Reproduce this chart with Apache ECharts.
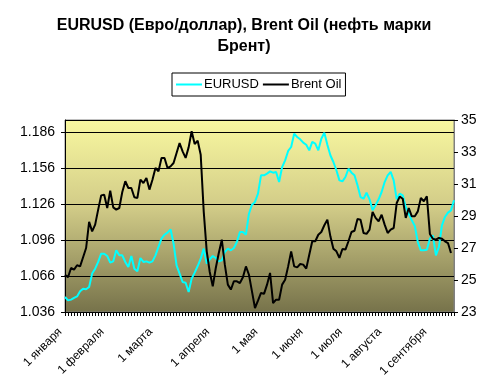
<!DOCTYPE html>
<html><head><meta charset="utf-8">
<script src="https://cdn.jsdelivr.net/npm/echarts@6/dist/echarts.min.js"></script>
<style>html,body{margin:0;padding:0;background:#fff}#c{width:488px;height:387px}</style>
</head><body><div id="c"></div>
<script>
const titleLines = ['EURUSD (Евро/доллар), Brent Oil (нефть марки', 'Брент)'];
const seriesNames = ['EURUSD', 'Brent Oil'];
const monthLabels = ['1 января','1 февраля','1 марта','1 апреля','1 мая','1 июня','1 июля','1 августа','1 сентября'];
const monthStartIdx = [0, 14, 30, 49, 65, 80, 93, 106, 121];
const eurusd = [
1.0485,1.0457,1.0463,1.0477,1.049,1.0532,1.0554,1.0549,1.0568,1.068,
1.0721,1.0777,1.0846,1.0846,1.0827,1.0771,1.0782,1.0874,1.0832,1.0832,
1.0777,1.0735,1.0827,1.0721,1.0699,1.081,1.0777,1.0782,1.0771,1.0782,
1.0832,1.0902,1.0971,1.1004,1.1021,1.1049,1.093,1.0749,1.068,1.061,
1.0604,1.0527,1.0638,1.0688,1.0743,1.0804,1.0888,1.0763,1.0799,1.0827,
1.081,1.0782,1.0791,1.086,1.0888,1.0874,1.0893,1.0943,1.1027,1.1027,
1.1004,1.1179,1.1254,1.1277,1.1346,1.1499,1.1499,1.1513,1.1532,1.1521,
1.1527,1.1443,1.1568,1.1624,1.1702,1.1735,1.1846,1.1818,1.1799,1.1771,
1.1754,1.1707,1.1777,1.1763,1.1707,1.1804,1.1854,1.1754,1.1666,1.161,
1.1541,1.1457,1.1449,1.1485,1.1554,1.1521,1.1499,1.1416,1.1318,1.1304,
1.1354,1.1299,1.1207,1.1249,1.1299,1.136,1.1443,1.1499,1.1527,1.1457,
1.1299,1.1346,1.1332,1.1235,1.1179,1.1124,1.1077,1.0943,1.0874,1.0874,
1.0879,1.0971,1.0999,1.0832,1.0902,1.1082,1.1152,1.1188,1.1207,1.1291];
const brent = [
25.33,25.17,25.75,25.65,25.92,25.85,26.42,27.0,28.63,28.04,
28.46,29.4,30.29,30.33,29.5,30.58,29.54,29.4,29.5,30.5,
31.17,30.75,30.75,30.17,30.13,31.27,31.06,31.38,30.65,31.27,
32.0,31.79,32.63,32.63,32.0,32.1,32.31,32.94,33.56,33.04,
32.63,33.29,34.3,33.5,33.7,32.83,29.29,26.79,25.5,24.6,
25.75,26.69,27.52,25.96,24.71,24.4,24.92,24.92,24.81,25.17,
25.85,25.33,24.29,23.25,23.71,24.19,24.13,24.71,25.44,23.56,
23.77,23.77,24.71,25.02,25.85,26.79,25.85,25.79,26.0,25.96,
25.71,26.58,27.42,27.42,27.83,28.0,28.42,28.77,27.73,26.96,
26.79,26.38,26.94,26.9,27.42,28.0,28.08,28.81,28.77,27.94,
27.88,28.15,29.25,28.88,28.67,29.08,28.46,27.94,28.15,28.25,
29.81,30.21,30.08,28.88,29.5,28.98,28.98,29.29,30.13,29.92,
30.23,27.88,27.58,27.52,27.63,27.58,27.42,27.31,26.69,null];
const leftTicks = {min: 1.036, max: 1.196, interval: 0.03};
const rightTicks = {min: 23, max: 35, interval: 2};

const categories = eurusd.map((_, i) => String(i));
const labelMap = {};
monthStartIdx.forEach((idx, k) => { labelMap[idx] = monthLabels[k]; });

const font = 'Arial, "Liberation Sans", sans-serif';
const titleStyle = {fontFamily: font, fontSize: 16, fontWeight: 'bold', color: '#000'};
const chart = echarts.init(document.getElementById('c'), null, {renderer: 'canvas'});
chart.setOption({
  animation: false,
  backgroundColor: '#ffffff',
  title: [
    {text: titleLines[0], left: 'center', top: 18, padding: 0, textStyle: titleStyle},
    {text: titleLines[1], left: 'center', top: 39, padding: 0, textStyle: titleStyle}
  ],
  legend: {
    data: seriesNames, left: 172, top: 73,
    borderColor: '#000', borderWidth: 1, borderRadius: 0, padding: [5, 4, 5, 4],
    icon: 'rect', itemWidth: 26, itemHeight: 2, itemGap: 4,
    textStyle: {fontFamily: font, fontSize: 13, color: '#000', padding: [0, 0, 0, -3]}
  },
  grid: {
    left: 65, right: 34, top: 120, bottom: 75, show: true,
    borderColor: '#808080', borderWidth: 1,
    backgroundColor: {type: 'linear', x: 0, y: 0, x2: 0, y2: 1,
      colorStops: [{offset: 0, color: '#f9f8a0'}, {offset: 0.45, color: '#d2cc88'}, {offset: 1, color: '#76724a'}]}
  },
  xAxis: {
    type: 'category', data: categories, boundaryGap: false,
    axisLine: {lineStyle: {color: '#000', width: 1}},
    axisTick: {show: true, interval: 0, length: 4, lineStyle: {color: '#000'}},
    axisLabel: {
      interval: (idx) => labelMap[idx] !== undefined,
      formatter: (v, idx) => labelMap[idx] || '',
      rotate: 45, margin: 13, padding: [0, 7, 0, 0], color: '#000', fontFamily: font, fontSize: 12
    },
    splitLine: {show: false}
  },
  yAxis: [
    {
      type: 'value', min: leftTicks.min, max: leftTicks.max, interval: leftTicks.interval,
      axisLine: {show: true, lineStyle: {color: '#000'}},
      axisTick: {show: true, length: 4, lineStyle: {color: '#000'}},
      axisLabel: {showMaxLabel: false, formatter: (v) => v.toFixed(3), color: '#000', fontFamily: font, fontSize: 14, margin: 10},
      splitLine: {show: true, lineStyle: {color: '#000', width: 1}}
    },
    {
      type: 'value', min: rightTicks.min, max: rightTicks.max, interval: rightTicks.interval,
      axisLine: {show: true, lineStyle: {color: '#808080'}},
      axisTick: {show: true, length: 4, lineStyle: {color: '#000'}},
      axisLabel: {color: '#000', fontFamily: font, fontSize: 14, margin: 7},
      splitLine: {show: false}
    }
  ],
  series: [
    {name: seriesNames[0], type: 'line', yAxisIndex: 0, data: eurusd, symbol: 'none',
      lineStyle: {color: '#00ffff', width: 2}, itemStyle: {color: '#00ffff'}},
    {name: seriesNames[1], type: 'line', yAxisIndex: 1, data: brent, symbol: 'none',
      lineStyle: {color: '#000000', width: 2}, itemStyle: {color: '#000000'}}
  ]
});
</script></body></html>
